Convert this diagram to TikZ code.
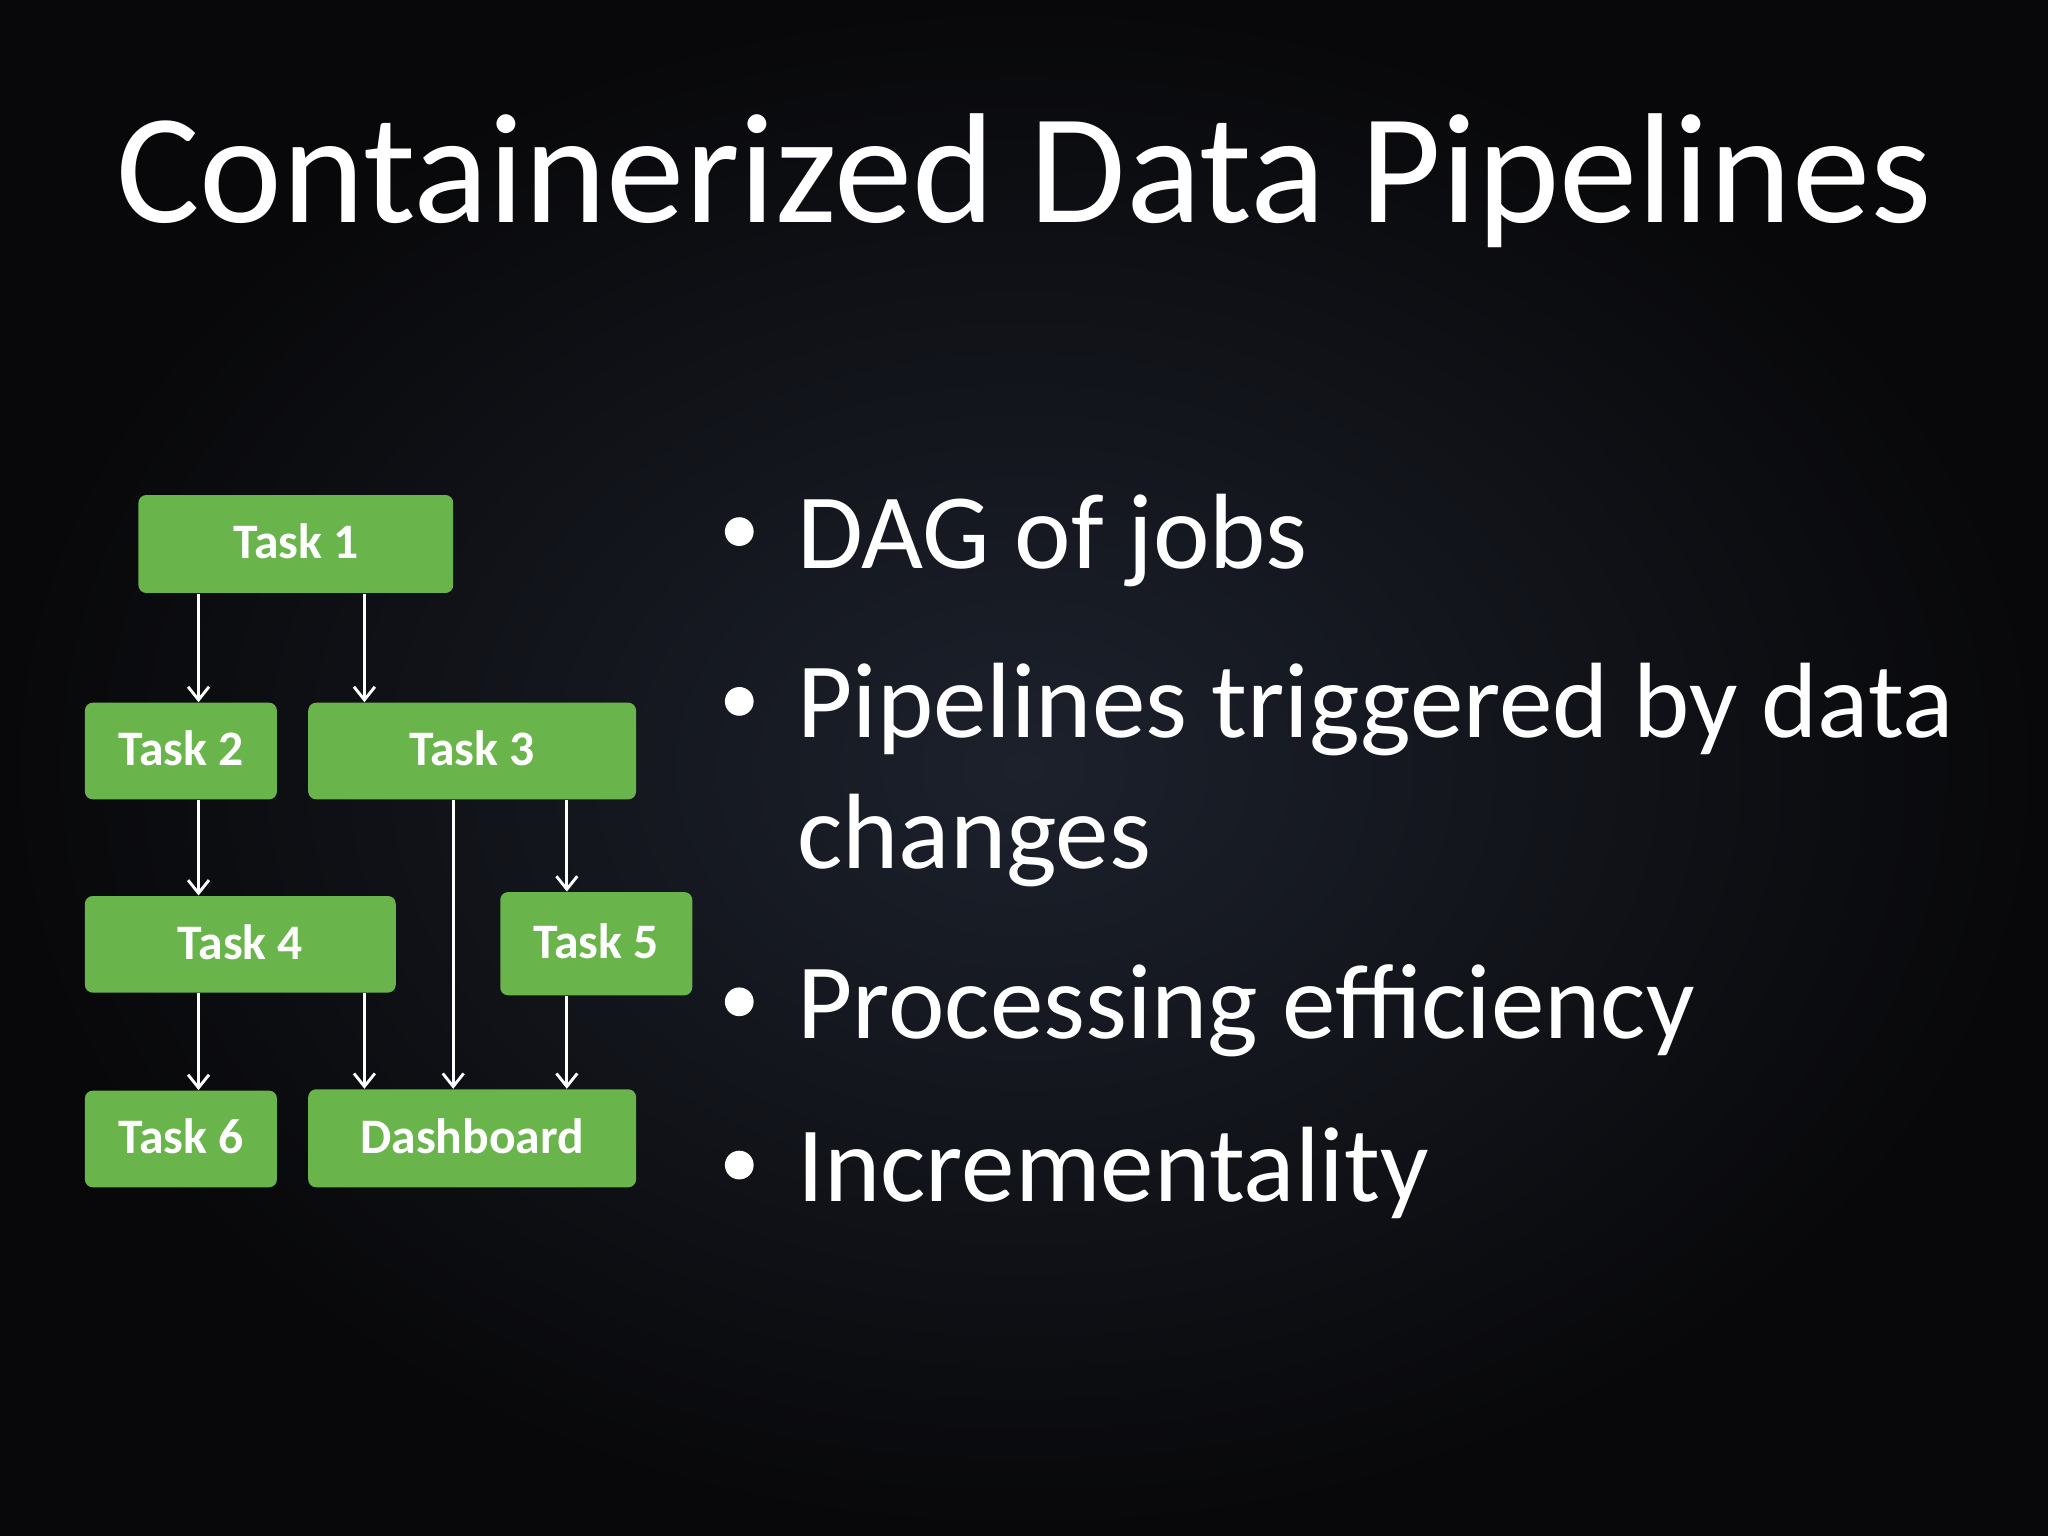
\documentclass[tikz,border=0pt]{standalone}
\usepackage{fontspec}
\setmainfont{Carlito}
\usetikzlibrary{arrows.meta}
\definecolor{taskgreen}{RGB}{106,180,76}
\definecolor{bginner}{RGB}{28,33,44}
\definecolor{bgouter}{RGB}{8,8,10}
\tikzset{
  task/.style={fill=taskgreen, draw=none, rounded corners=3pt, text=white,
    font=\fontsize{19}{22}\selectfont\bfseries, inner sep=0pt, text depth=2pt},
  flow/.style={draw=white, line width=1.1pt, -{Straight Barb[length=5pt,width=8pt]}},
  bullet/.style={anchor=base west, text=white, font=\fontsize{41}{50}\selectfont, inner sep=0pt}
}
\begin{document}
\begin{tikzpicture}[x=0.5pt,y=0.5pt,yscale=-1]
    % background
    \shade[inner color=bginner, outer color=bgouter] (0,0) rectangle (1568,1176);
    \useasboundingbox (0,0) rectangle (1568,1176);

    % title
    \node[anchor=base, text=white, font=\fontsize{60}{70}\selectfont, inner sep=0pt] (title) at (784,170) {Containerized Data Pipelines};

    % tasks
    \node[task, minimum width=120.5pt, minimum height=37.5pt] (t1) at (226.5,416.5) {Task 1};
    \node[task, minimum width=73.5pt, minimum height=37pt] (t2) at (138.5,575) {Task 2};
    \node[task, minimum width=125.5pt, minimum height=37pt] (t3) at (361.5,575) {Task 3};
    \node[task, minimum width=119pt, minimum height=37pt] (t4) at (184,723) {Task 4};
    \node[task, minimum width=73.5pt, minimum height=39.5pt] (t5) at (456.5,722.5) {Task 5};
    \node[task, minimum width=73.5pt, minimum height=37pt] (t6) at (138.5,872) {Task 6};
    \node[task, minimum width=125.5pt, minimum height=37.5pt] (dash) at (361.5,871.5) {Dashboard};

    % edges
    \draw[flow] (t1.south -| 152,0) -- (t2.north -| 152,0);
    \draw[flow] (t1.south -| 279,0) -- (t3.north -| 279,0);
    \draw[flow] (t2.south -| 152,0) -- (t4.north -| 152,0);
    \draw[flow] (t3.south -| 434,0) -- (t5.north -| 434,0);
    \draw[flow] (t3.south -| 347,0) -- (dash.north -| 347,0);
    \draw[flow] (t4.south -| 152,0) -- (t6.north -| 152,0);
    \draw[flow] (t4.south -| 279,0) -- (dash.north -| 279,0);
    \draw[flow] (t5.south -| 434,0) -- (dash.north -| 434,0);

    % bullets
    \foreach \y/\txt in {435/DAG of jobs, 565/Pipelines triggered by data, 795/Processing efficiency, 920/Incrementality}{
      \fill[white] (566,\y-28) circle (5.5pt);
      \node[bullet] at (610,\y) {\txt};
    }
    \node[bullet] (cont) at (610,665) {changes};
\end{tikzpicture}
\end{document}
